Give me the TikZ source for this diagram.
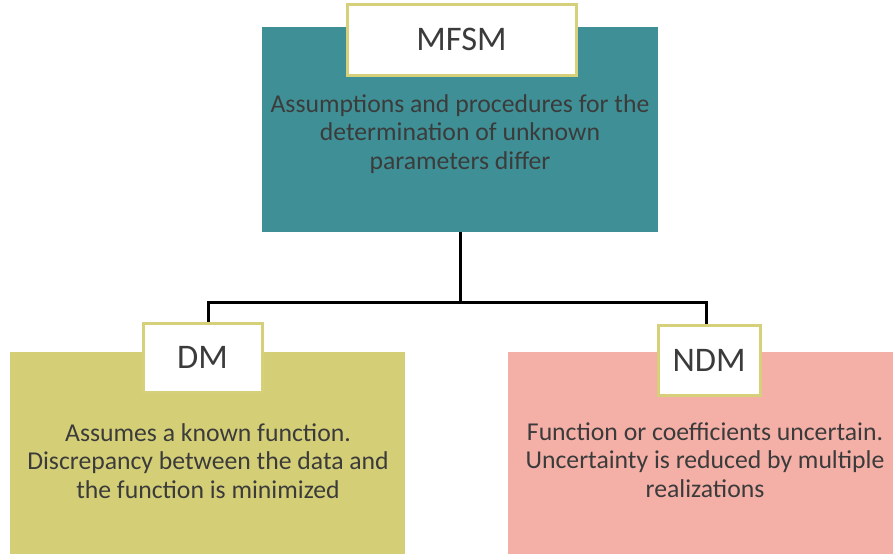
\documentclass[tikz,border=0pt]{standalone}
\usepackage{fontspec}
\setmainfont{Carlito}
\definecolor{teal1}{HTML}{3F9096}
\definecolor{olive1}{HTML}{D4CF76}
\definecolor{pink1}{HTML}{F4AFA7}
\definecolor{lblborder}{HTML}{D6D07A}
\definecolor{txt}{HTML}{3B3B3B}
\begin{document}
\begin{tikzpicture}[x=1pt,y=-1pt,
  lbl/.style={draw=lblborder, line width=3pt, fill=white, inner sep=0pt, text=txt, font=\fontsize{34.5}{40}\selectfont},
  body/.style={align=center, text=txt, font=\fontsize{25.7}{28.3}\selectfont, inner sep=0pt},
  conn/.style={line width=3pt, black}]
\useasboundingbox (0,0) rectangle (893,554);
% main boxes
\path[fill=teal1] (262,27) rectangle (658,232);
\node[inner sep=0pt, minimum width=396pt, minimum height=205pt] (top) at (460,129.5) {};
\path[fill=olive1] (10,352) rectangle (405,554);
\path[fill=pink1] (508,352) rectangle (893,554);
% connectors
\coordinate (j) at (460,302);
\draw[conn] (top.south) -- (j);
% body texts
\node[body] (tt) at (460,134) {Assumptions and procedures for the\\determination of unknown\\parameters differ};
\node[body] (dt) at (208,461) {Assumes a known function.\\Discrepancy between the data and\\the function is minimized};
\node[body] (nt) at (705,460) {Function or coefficients uncertain.\\Uncertainty is reduced by multiple\\realizations};
% labels
\node[lbl, minimum width=229pt, minimum height=71pt] (mfsm) at (461.5,39.5) {MFSM};
\node[lbl, minimum width=119pt, minimum height=69pt] (dm) at (202.5,357.5) {DM};
\node[lbl, minimum width=102pt, minimum height=70pt] (ndm) at (709,360.5) {NDM};
\draw[conn] (j) -| ([xshift=5.5pt]dm.north);
\draw[conn] (j) -| ([xshift=-3pt]ndm.north);
\end{tikzpicture}
\end{document}
